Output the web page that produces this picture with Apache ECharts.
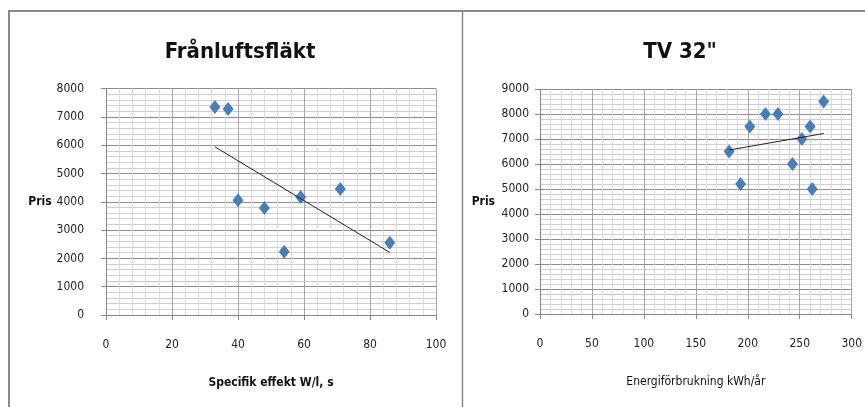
<!DOCTYPE html>
<html>
<head>
<meta charset="utf-8">
<script src="https://cdn.jsdelivr.net/npm/echarts@6/dist/echarts.min.js"></script>
<style>
  html, body { margin: 0; padding: 0; background: #fff; }
  #chart { width: 865px; height: 407px; }
</style>
</head>
<body>
<div id="chart"></div>
<script>
// Frånluftsfläkt: specific fan power vs price
const fanTitle = 'Frånluftsfläkt';
const fanXName = 'Specifik effekt W/l, s';
const fanEffect = [33, 37, 40, 48, 54, 59, 71, 86];
const fanPrice = [7350, 7280, 4050, 3780, 2230, 4170, 4450, 2550];
const fanTrend = [[33, 5940], [86, 2210]];

// TV 32": yearly energy use vs price
const tvTitle = 'TV 32"';
const tvXName = 'Energiförbrukning kWh/år';
const tvEnergy = [182, 193, 202, 217, 229, 243, 252, 260, 262, 273];
const tvPrice = [6500, 5200, 7500, 8000, 8000, 6000, 7000, 7500, 5000, 8500];
const tvTrend = [[182, 6560], [273, 7220]];

const yName = 'Pris';

const FONT = '"Liberation Sans Narrow", "DejaVu Sans Condensed", "Liberation Sans", sans-serif';
const MARKER = '#4a7ebb';

function pairs(xs, ys) { return xs.map((x, i) => [x, ys[i]]); }
function plain(v) { return String(v); }

function xAxisCfg(idx, max, interval, name, bold) {
  return {
    type: 'value', gridIndex: idx, min: 0, max: max, interval: interval,
    name: name, nameLocation: 'middle', nameGap: 62,
    nameTextStyle: { fontFamily: FONT, fontSize: 12, fontWeight: bold ? 'bold' : 'normal', color: '#111' },
    axisLine: { show: true, lineStyle: { color: '#868686', width: 1 } },
    axisTick: { show: true, length: 5, lineStyle: { color: '#868686' } },
    axisLabel: { fontFamily: FONT, fontSize: 12, color: '#222', margin: 24, formatter: plain },
    splitLine: { show: true, lineStyle: { color: '#a6a6a6', width: 1 } },
    minorTick: { show: true, splitNumber: 5, length: 0 },
    minorSplitLine: { show: true, lineStyle: { color: '#dadada', width: 1 } }
  };
}

function yAxisCfg(idx, max, labelMargin, nameGap) {
  return {
    type: 'value', gridIndex: idx, min: 0, max: max, interval: 1000,
    name: yName, nameLocation: 'middle', nameRotate: 0, nameGap: nameGap,
    nameTextStyle: { fontFamily: FONT, fontSize: 12, fontWeight: 'bold', color: '#111' },
    axisLine: { show: true, lineStyle: { color: '#868686', width: 1 } },
    axisTick: { show: true, length: 5, lineStyle: { color: '#868686' } },
    axisLabel: { fontFamily: FONT, fontSize: 12, color: '#222', margin: labelMargin, formatter: plain },
    splitLine: { show: true, lineStyle: { color: '#8c8c8c', width: 1 } },
    minorTick: { show: true, splitNumber: 5, length: 0 },
    minorSplitLine: { show: true, lineStyle: { color: '#cfcfcf', width: 1 } }
  };
}

const chart = echarts.init(document.getElementById('chart'), null, { renderer: 'canvas' });

chart.setOption({
  backgroundColor: '#ffffff',
  animation: false,
  title: [
    { text: fanTitle, left: 235, top: 36, textAlign: 'center',
      textStyle: { fontFamily: FONT, fontSize: 22, fontWeight: 'bold', color: '#111' } },
    { text: tvTitle, left: 675, top: 36, textAlign: 'center',
      textStyle: { fontFamily: FONT, fontSize: 22, fontWeight: 'bold', color: '#111' } }
  ],
  grid: [
    { left: 106, right: 429, top: 88.5, bottom: 92 },
    { left: 540, right: 12, top: 89, bottom: 93 }
  ],
  xAxis: [
    xAxisCfg(0, 100, 20, fanXName, true),
    xAxisCfg(1, 300, 50, tvXName, false)
  ],
  yAxis: [
    yAxisCfg(0, 8000, 22, 54),
    yAxisCfg(1, 9000, 11, 45)
  ],
  series: [
    { type: 'scatter', xAxisIndex: 0, yAxisIndex: 0, data: pairs(fanEffect, fanPrice),
      symbol: 'diamond', symbolSize: [11, 14], itemStyle: { color: MARKER, opacity: 1 }, z: 3 },
    { type: 'line', xAxisIndex: 0, yAxisIndex: 0, data: fanTrend, showSymbol: false,
      lineStyle: { color: '#222', width: 1 }, z: 4 },
    { type: 'scatter', xAxisIndex: 1, yAxisIndex: 1, data: pairs(tvEnergy, tvPrice),
      symbol: 'diamond', symbolSize: [11, 14], itemStyle: { color: MARKER, opacity: 1 }, z: 3 },
    { type: 'line', xAxisIndex: 1, yAxisIndex: 1, data: tvTrend, showSymbol: false,
      lineStyle: { color: '#222', width: 1 }, z: 4 }
  ],
  graphic: [
    // surrounding frame and divider between the two charts
    { type: 'line', shape: { x1: 8, y1: 11, x2: 865, y2: 11 }, style: { stroke: '#8a8a8a', lineWidth: 2 }, silent: true },
    { type: 'line', shape: { x1: 9, y1: 10, x2: 9, y2: 407 }, style: { stroke: '#8a8a8a', lineWidth: 2 }, silent: true },
    { type: 'line', shape: { x1: 462.5, y1: 11, x2: 462.5, y2: 407 }, style: { stroke: '#8a8a8a', lineWidth: 1.5 }, silent: true }
  ]
});
</script>
</body>
</html>
